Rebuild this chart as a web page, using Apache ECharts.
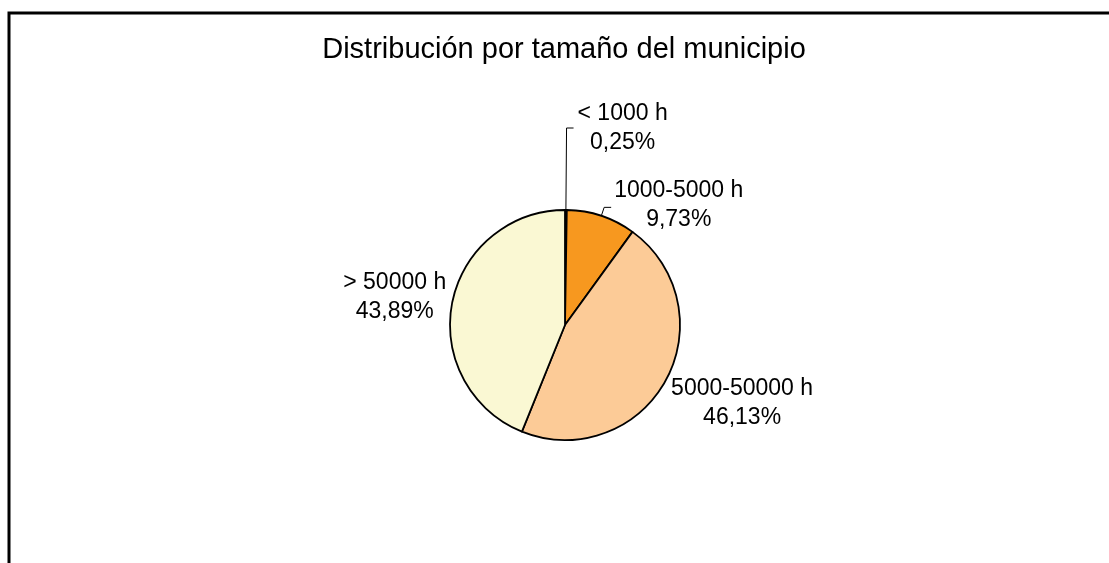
<!DOCTYPE html>
<html>
<head>
<meta charset="utf-8">
<script src="https://cdn.jsdelivr.net/npm/echarts@6/dist/echarts.min.js"></script>
<style>
  html, body { margin: 0; padding: 0; background: #fff; }
  #chart { width: 1109px; height: 563px; }
</style>
</head>
<body>
<div id="chart"></div>
<script>
// Municipality size groups and their share (%)
const categories = ['< 1000 h', '1000-5000 h', '5000-50000 h', '> 50000 h'];
const shares = [0.25, 9.73, 46.13, 43.89];
const sliceColors = ['#1a1208', '#F7981F', '#FCCB97', '#FAF8D3'];

const FONT = '"Liberation Sans", Arial, sans-serif';

// per-slice label nudges (px) and leader line settings
const labelShift = [[0, 0], [-1, -2], [-9, 17], [4, -5]];
const leader = [
  { show: true, length: 82, length2: 7 },
  { show: true, length: 9, length2: 7 },
  { show: false, length: 12, length2: 0 },
  { show: false, length: 6, length2: 0 }
];

const fmt = v => v.toFixed(2).replace('.', ',') + '%';

const chart = echarts.init(document.getElementById('chart'), null, { renderer: 'canvas' });

chart.setOption({
  animation: false,
  backgroundColor: '#ffffff',
  title: {
    text: 'Distribución por tamaño del municipio',
    left: 559,
    top: 30,
    textAlign: 'center',
    textStyle: { fontFamily: FONT, fontSize: 29, fontWeight: 'normal', color: '#000' }
  },
  graphic: [{
    type: 'polyline',
    shape: { points: [[9, 600], [9, 13], [1120, 13]] },
    style: { stroke: '#000', lineWidth: 3, fill: null }
  }],
  series: [{
    type: 'pie',
    center: [565, 325],
    radius: 115,
    startAngle: 90,
    clockwise: true,
    avoidLabelOverlap: false,
    itemStyle: { borderColor: '#000', borderWidth: 1.8 },
    label: {
      show: true,
      position: 'outside',
      distanceToLabelLine: 4,
      color: '#000',
      fontFamily: FONT,
      fontSize: 23,
      lineHeight: 29,
      formatter: p => '{t|' + p.name + '}\n{t|' + fmt(p.value) + '}',
      rich: {
        t: { fontFamily: FONT, fontSize: 23, lineHeight: 29, color: '#000', align: 'center' }
      }
    },
    labelLine: {
      lineStyle: { color: '#000', width: 1 }
    },
    labelLayout: function (params) {
      const s = labelShift[params.dataIndex];
      return { dx: s[0], dy: s[1] };
    },
    data: categories.map((name, i) => ({
      name: name,
      value: shares[i],
      itemStyle: { color: sliceColors[i] },
      labelLine: leader[i]
    }))
  }]
});
</script>
</body>
</html>
